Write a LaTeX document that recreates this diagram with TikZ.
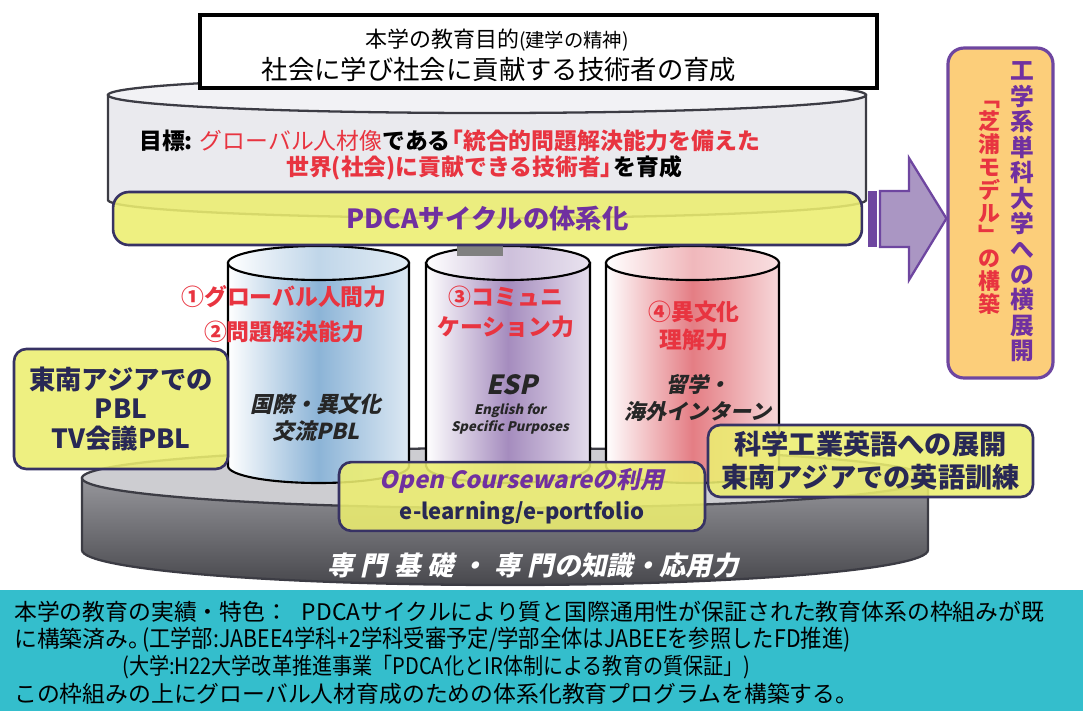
\documentclass[tikz,border=0pt]{standalone}
\usepackage{fontspec}
\setmainfont{Noto Sans CJK JP}
\newfontfamily\narrowjp{Noto Sans CJK JP}[FakeStretch=0.88]
\newfontfamily\slantjp{Noto Sans CJK JP}[FakeSlant=0.22,BoldFeatures={FakeSlant=0.22}]
\usetikzlibrary{calc}

\definecolor{tealband}{RGB}{52,190,204}
\definecolor{redtxt}{RGB}{232,52,64}
\definecolor{purpletxt}{RGB}{112,48,160}
\definecolor{navytxt}{RGB}{40,40,85}
\definecolor{ylfill}{RGB}{236,238,112}
\definecolor{boxline}{RGB}{55,50,100}
\definecolor{orangefill}{RGB}{252,206,122}
\definecolor{purpleline}{RGB}{110,70,160}
\definecolor{arrowfill}{RGB}{170,150,195}
\definecolor{diskgray}{RGB}{234,234,238}
\definecolor{diskline}{RGB}{60,60,68}
\definecolor{cylblue}{RGB}{140,180,215}
\definecolor{cylpurple}{RGB}{165,140,190}
\definecolor{cylred}{RGB}{228,125,132}

\begin{document}
\begin{tikzpicture}[x=0.02cm,y=-0.02cm,
    disk/.style={draw=diskline,line width=1.3pt},
    panel/.style={draw=boxline,line width=1.5pt,fill=ylfill,fill opacity=0.88,text opacity=1,rounded corners=7pt,align=center},
    goal/.style={text=redtxt,font=\bfseries\fontsize{13}{17}\selectfont,align=center},
    ital/.style={text=black!85,font=\slantjp\bfseries\fontsize{12.5}{15.3}\selectfont,align=center}]

\useasboundingbox (0,0) rectangle (1083,711);

% upper disk
\draw[disk,fill=diskgray] (108,95) -- (108,200) arc[start angle=180,end angle=0,x radius=379,y radius=18] -- (866,95) -- cycle;
\draw[disk,fill=diskgray!60!white] (487,95) ellipse[x radius=379,y radius=18];

% aim
\node[draw,line width=1.8pt,fill=white,minimum width=13.54cm,minimum height=1.46cm] (aim) at (538.5,51.5) {};
\node[font=\fontsize{12.5}{15}\selectfont] (aim1) at (497,40) {本学の教育目的{\fontsize{11}{12}\selectfont(建学の精神)}};
\node[font=\fontsize{15}{18}\selectfont] (aim2) at (499,70) {社会に学び社会に貢献する技術者の育成};

\node[anchor=west,font=\bfseries\fontsize{13}{16}\selectfont] (goal1) at (133,141) {目標: {\mdseries\color{redtxt}グローバル人材像}である\hspace{-0.45em}{\color{redtxt}「統合的問題解決能力を備えた}};
\node[anchor=west,font=\bfseries\fontsize{13}{16}\selectfont] (goal2) at (280,168) {{\color{redtxt}世界(社会)に貢献できる技術者」}\hspace{-0.45em}を育成};

% lower disk
\draw[disk,top color={rgb,255:red,150;green,150;blue,155},bottom color={rgb,255:red,72;green,72;blue,77}] (82,478) -- (82,550) arc[start angle=180,end angle=0,x radius=423,y radius=35] -- (928,478) -- cycle;
\draw[disk,fill={rgb,255:red,205;green,205;blue,209}] (505,478) ellipse[x radius=423,y radius=30];

% three drums
\foreach \cx/\rx/\c in {318.5/90.5/cylblue, 508/82/cylpurple, 692.5/86.5/cylred}{
  \draw[line width=1.2pt,left color=white,right color=\c!30,middle color=\c]
    ({\cx-\rx},263) -- ({\cx-\rx},466) arc[start angle=180,end angle=0,x radius=\rx,y radius=17] -- ({\cx+\rx},263) -- cycle;
  \draw[line width=1.2pt,left color=white,right color=\c!25,middle color=\c!55] (\cx,263) ellipse[x radius=\rx,y radius=17];
}
\fill[black!50] (457,243) rectangle (503,256);

\node[goal] (c1a) at (284,297) {①グローバル人間力};
\node[goal] (c1b) at (284,332) {②問題解決能力};
\node[ital] (c1c) at (316,418) {国際・異文化\\交流PBL};
\node[goal,font=\bfseries\fontsize{13}{17.5}\selectfont] (c2a) at (506,312) {③コミュニ\\ケーション力};
\node[ital,font=\slantjp\bfseries\fontsize{15}{18}\selectfont] (c2b) at (512,385) {ESP};
\node[ital,font=\slantjp\bfseries\fontsize{7.5}{10}\selectfont] (c2c) at (510,419) {English for\\Specific Purposes};
\node[goal,font=\bfseries\fontsize{13}{16}\selectfont] (c3a) at (694,326) {④異文化\\理解力};
\node[ital,font=\slantjp\bfseries\fontsize{12}{15}\selectfont] (c3b) at (698,398) {留学・\\海外インターン};

% PDCA band
\node[panel,rounded corners=9pt,minimum width=14.98cm,minimum height=1.06cm,text=purpletxt,font=\bfseries\fontsize{15}{18}\selectfont] (pdca) at (487.5,218.5) {PDCAサイクルの体系化};

% model box and arrow
\node[draw=purpleline,line width=1.8pt,fill=orangefill,rounded corners=9pt,minimum width=2.1cm,minimum height=6.6cm] (model) at (1000.5,213) {};
\node[text=purpletxt,font=\bfseries\fontsize{13.5}{14.5}\selectfont,align=center] (modelA) at (1022,212) {工\\学\\系\\単\\科\\大\\学\\へ\\の\\横\\展\\開};
\node[text=redtxt,font=\bfseries\fontsize{12.5}{13}\selectfont,align=center] (modelB) at (989,208) {﹁\\芝\\浦\\モ\\デ\\ル\\﹂\\の\\構\\築};
\fill[purpleline] (868,191) rectangle (877,247);
\draw[line width=1.3pt,draw=purpleline,fill=arrowfill] (880,191) -- (909,191) -- (909,158) -- (model.west |- pdca.east) -- (909,280) -- (909,247) -- (880,247) -- cycle;

% yellow panels
\node[panel,text=navytxt,font=\bfseries\fontsize{15}{17}\selectfont,minimum width=4.28cm,minimum height=2.4cm] (pbl) at (121,409) {東南アジアでの\\PBL\\TV会議PBL};
\node[panel,text=navytxt,font=\bfseries\fontsize{15.5}{18.7}\selectfont,minimum width=6.5cm,minimum height=1.44cm] (eng) at (870.5,461) {科学工業英語への展開\\東南アジアでの英語訓練};
\node[panel,text=navytxt,font=\bfseries\fontsize{12.5}{18}\selectfont,minimum width=7.32cm,minimum height=1.34cm] (ocw) at (522,496.5) {{\slantjp\color{purpletxt}\fontsize{13.5}{18}\selectfont Open Coursewareの利用}\\e-learning/e-portfolio};

\node[text=white,font=\slantjp\bfseries\fontsize{15}{18}\selectfont] (skill) at (533,566) {専\hspace{4pt}門\hspace{4pt}基\hspace{4pt}礎\hspace{4pt}・\hspace{4pt}専\hspace{4pt}門の知識・応用力};

% record band
\node[fill=tealband,minimum width=21.66cm,minimum height=2.42cm,inner sep=0pt,anchor=north west] (base) at (0,590) {};
\node[anchor=west,font=\fontsize{13}{16}\selectfont] (rec1) at (8,612) {本学の教育の実績・特色：\hspace{0.6em}PDCAサイクルにより質と国際通用性が保証された教育体系の枠組みが既};
\node[anchor=west,font=\fontsize{13}{16}\selectfont] (rec2) at (8,640) {に構築済み。\hspace{-0.4em}{\narrowjp\fontsize{13.8}{16}\selectfont(工学部:JABEE4学科+2学科受審予定/学部全体はJABEEを参照したFD推進)}};
\node[anchor=west,font=\narrowjp\fontsize{13}{16}\selectfont] (rec3) at (116,667) {(大学:H22大学改革推進事業「PDCA化とIR体制による教育の質保証」)};
\node[anchor=west,font=\fontsize{13}{16}\selectfont] (rec4) at (8,694) {この枠組みの上にグローバル人材育成のための体系化教育プログラムを構築する。};
\end{tikzpicture}
\end{document}
